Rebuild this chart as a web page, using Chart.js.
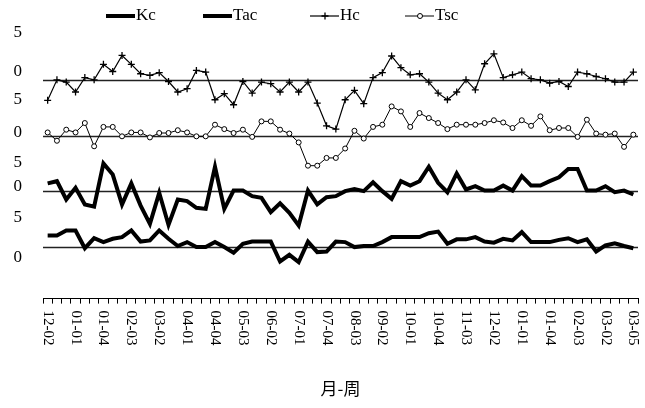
<!DOCTYPE html>
<html>
<head>
<meta charset="utf-8">
<script src="https://cdn.jsdelivr.net/npm/chart.js@4.4.1/dist/chart.umd.min.js"></script>
<style>
    body { margin: 0; background: #fff; }
    #wrap { width: 645px; height: 408px; position: relative; }
</style>
</head>
<body>
<div id="wrap"><canvas id="chartweek"></canvas></div>
<script>
// 월-주 라벨
var weekLabels = ['12-02', '12-03', '12-04',
    '01-01', '01-02', '01-03', '01-04', '02-01', '02-02', '02-03', '02-04',
    '03-01', '03-02', '03-03', '03-04', '04-01', '04-02', '04-03', '04-04',
    '05-01', '05-02', '05-03', '05-04', '06-01', '06-02', '06-03', '06-04',
    '07-01', '07-02', '07-03', '07-04', '08-01', '08-02', '08-03', '08-04',
    '09-01', '09-02', '09-03', '09-04', '10-01', '10-02', '10-03', '10-04',
    '11-01', '11-02', '11-03', '11-04', '12-01', '12-02', '12-03', '12-04',
    '01-01', '01-02', '01-03', '01-04', '02-01', '02-02', '02-03', '02-04',
    '03-01', '03-02', '03-03', '03-04', '03-05'];

var kcValues = [1.14, 1.18, 0.85, 1.06, 0.76, 0.72, 1.50, 1.30, 0.76, 1.14,
    0.74, 0.41, 0.97, 0.39, 0.85, 0.82, 0.70, 0.68, 1.44, 0.68,
    1.01, 1.01, 0.91, 0.88, 0.62, 0.78, 0.61, 0.38, 1.01, 0.76,
    0.89, 0.91, 1.00, 1.04, 1.00, 1.16, 1.00, 0.86, 1.18, 1.10,
    1.18, 1.44, 1.15, 0.98, 1.32, 1.03, 1.09, 1.01, 1.01, 1.10,
    1.01, 1.27, 1.10, 1.10, 1.18, 1.25, 1.40, 1.40, 1.01, 1.01,
    1.09, 0.98, 1.01, 0.94];

var tacValues = [0.20, 0.20, 0.29, 0.29, -0.03, 0.15, 0.08, 0.14, 0.17, 0.29,
    0.09, 0.11, 0.29, 0.14, 0.01, 0.08, -0.01, -0.01, 0.08, -0.01,
    -0.11, 0.05, 0.09, 0.09, 0.09, -0.27, -0.15, -0.28, 0.09, -0.10,
    -0.09, 0.09, 0.08, -0.01, 0.01, 0.01, 0.08, 0.17, 0.17, 0.17,
    0.17, 0.24, 0.27, 0.05, 0.13, 0.13, 0.17, 0.09, 0.07, 0.14,
    0.11, 0.26, 0.08, 0.08, 0.08, 0.12, 0.15, 0.08, 0.13, -0.09,
    0.02, 0.06, 0.01, -0.03];

var hcValues = [2.64, 3.01, 2.97, 2.79, 3.05, 3.01, 3.29, 3.16, 3.45, 3.29,
    3.12, 3.09, 3.14, 2.98, 2.79, 2.85, 3.18, 3.15, 2.65, 2.76,
    2.56, 2.98, 2.77, 2.97, 2.94, 2.79, 2.97, 2.79, 2.97, 2.59,
    2.18, 2.12, 2.65, 2.82, 2.58, 3.05, 3.14, 3.44, 3.23, 3.10,
    3.12, 2.97, 2.77, 2.65, 2.79, 3.01, 2.83, 3.30, 3.48, 3.05,
    3.10, 3.15, 3.03, 3.01, 2.95, 2.98, 2.89, 3.15, 3.12, 3.07,
    3.03, 2.97, 2.97, 3.15];

var tscValues = [2.06, 1.91, 2.11, 2.06, 2.23, 1.81, 2.16, 2.16, 1.99, 2.06,
    2.06, 1.97, 2.05, 2.05, 2.10, 2.06, 1.99, 1.99, 2.20, 2.12,
    2.05, 2.11, 1.98, 2.26, 2.26, 2.11, 2.04, 1.88, 1.46, 1.46,
    1.60, 1.60, 1.77, 2.09, 1.95, 2.16, 2.20, 2.53, 2.44, 2.16,
    2.41, 2.32, 2.23, 2.12, 2.20, 2.20, 2.20, 2.23, 2.28, 2.24,
    2.14, 2.28, 2.18, 2.35, 2.10, 2.14, 2.14, 1.98, 2.29, 2.04,
    2.02, 2.04, 1.80, 2.02];

// 기준선 (각 계열의 0선)
var baselineValues = [0, 1, 2, 3];

// y축 눈금 (원본 그림에서 잘린 라벨)
var yTickValues = [-0.2, 0.52, 1.08, 1.52, 2.06, 2.66, 3.16, 3.87];
var yTickText = ['0', '5', '0', '5', '0', '5', '0', '5'];

var serif = '"Liberation Serif", "DejaVu Serif", serif';

var baselinePlugin = {
    id: 'baselines',
    beforeDatasetsDraw: function (chart) {
        var ctx = chart.ctx;
        var area = chart.chartArea;
        var y = chart.scales.y;
        ctx.save();
        ctx.strokeStyle = '#222';
        ctx.lineWidth = 1.5;
        for (var i = 0; i < baselineValues.length; i++) {
            var py = Math.round(y.getPixelForValue(baselineValues[i])) + 0.5;
            ctx.beginPath();
            ctx.moveTo(area.left, py);
            ctx.lineTo(area.right, py);
            ctx.stroke();
        }
        ctx.restore();
    }
};

// x축 라벨: 위에서 아래로 읽히게 회전
var weekLabelPlugin = {
    id: 'weekLabels',
    afterDraw: function (chart) {
        var ctx = chart.ctx;
        var x = chart.scales.x;
        ctx.save();
        ctx.fillStyle = '#000';
        ctx.font = '15px ' + serif;
        ctx.textAlign = 'left';
        ctx.textBaseline = 'middle';
        for (var i = 0; i < weekLabels.length; i += 3) {
            ctx.save();
            ctx.translate(x.getPixelForValue(i), x.top + 12);
            ctx.rotate(Math.PI / 2);
            ctx.fillText(weekLabels[i], 0, 0);
            ctx.restore();
        }
        ctx.restore();
    }
};

// 범례
var legendX = [106, 203, 310, 405];
var legendPlugin = {
    id: 'lineLegend',
    afterDraw: function (chart) {
        var ctx = chart.ctx;
        var y = 16;
        ctx.save();
        ctx.font = '17px ' + serif;
        ctx.textBaseline = 'middle';
        ctx.textAlign = 'left';
        chart.data.datasets.forEach(function (ds, i) {
            var x0 = legendX[i];
            ctx.strokeStyle = '#000';
            ctx.lineWidth = ds.borderWidth;
            ctx.beginPath();
            ctx.moveTo(x0, y);
            ctx.lineTo(x0 + 29, y);
            ctx.stroke();
            if (ds.pointRadius > 0) {
                ctx.fillStyle = ds.pointBackgroundColor;
                ctx.strokeStyle = '#000';
                ctx.lineWidth = ds.pointBorderWidth;
                Chart.helpers.drawPoint(ctx, {
                    pointStyle: ds.pointStyle,
                    radius: ds.pointRadius,
                    borderWidth: ds.pointBorderWidth
                }, x0 + 15, y);
            }
            ctx.fillStyle = '#000';
            ctx.fillText(ds.label, x0 + 30, y);
        });
        ctx.restore();
    }
};

var chartArea = document.getElementById('chartweek').getContext('2d');

var chartweek = new Chart(chartArea, {
    type: 'line',
    data: {
        labels: weekLabels,
        datasets: [{
            label: 'Kc',
            data: kcValues,
            borderColor: '#000',
            borderWidth: 4,
            pointRadius: 0,
            tension: 0
        }, {
            label: 'Tac',
            data: tacValues,
            borderColor: '#000',
            borderWidth: 4,
            pointRadius: 0,
            tension: 0
        }, {
            label: 'Hc',
            data: hcValues,
            borderColor: '#000',
            borderWidth: 1.2,
            pointStyle: 'cross',
            pointRadius: 3.5,
            pointBorderWidth: 1.3,
            pointBorderColor: '#000',
            pointBackgroundColor: '#000',
            tension: 0
        }, {
            label: 'Tsc',
            data: tscValues,
            borderColor: '#000',
            borderWidth: 1,
            pointStyle: 'circle',
            pointRadius: 2.5,
            pointBorderWidth: 1,
            pointBorderColor: '#000',
            pointBackgroundColor: '#fff',
            tension: 0
        }]
    },
    options: {
        responsive: true,
        maintainAspectRatio: false,
        animation: false,
        layout: {
            padding: { top: 25, right: 7, bottom: 7, left: 0 }
        },
        plugins: {
            legend: { display: false },
            tooltip: { enabled: false }
        },
        scales: {
            x: {
                type: 'category',
                offset: true,
                grid: {
                    offset: true,
                    drawOnChartArea: false,
                    drawTicks: true,
                    tickLength: 5,
                    color: '#000'
                },
                border: { display: true, color: '#000', width: 1 },
                ticks: { display: false },
                title: {
                    display: true,
                    text: '月-周',
                    color: '#000',
                    font: { family: '"Noto Sans CJK SC"', size: 17 },
                    padding: { top: 75, bottom: 2 }
                }
            },
            y: {
                min: -0.94,
                max: 4.0,
                grid: { display: false, drawTicks: false },
                border: { display: false },
                afterBuildTicks: function (scale) {
                    scale.ticks = yTickValues.map(function (v) { return { value: v }; });
                },
                afterFit: function (scale) {
                    scale.width = 43;
                    scale.paddingTop = 0;
                    scale.paddingBottom = 0;
                },
                ticks: {
                    color: '#000',
                    padding: 21,
                    font: { family: serif, size: 17 },
                    callback: function (value, index) {
                        return yTickText[index];
                    }
                }
            }
        }
    },
    plugins: [baselinePlugin, weekLabelPlugin, legendPlugin]
});
</script>
</body>
</html>
